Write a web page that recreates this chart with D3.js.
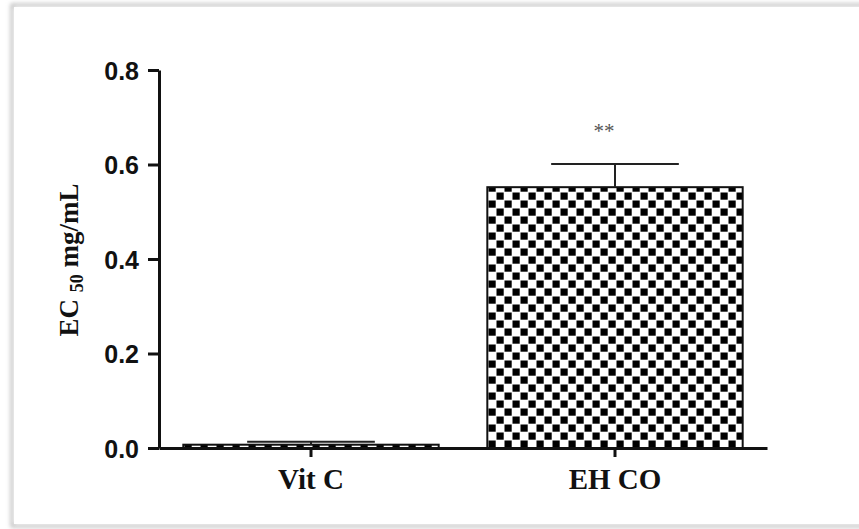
<!DOCTYPE html>
<html>
<head>
    <meta charset="UTF-8">
    <style>
        body { margin: 0; background: #fff; }
        .tick-lab { font-family: "Liberation Sans", Arial, sans-serif; font-weight: bold; font-size: 25px; fill: #111; }
        .cat-lab { font-family: "Liberation Serif", "Times New Roman", serif; font-weight: bold; font-size: 29px; fill: #111; }
    </style>
    <script src="https://d3js.org/d3.v7.min.js"></script>
</head>
<body>
    <svg width="859" height="529"></svg>
    <script>
        // data
        var groups = ["Vit C", "EH CO"];
        var means = [0.007, 0.552];
        var sems = [0.006, 0.049];
        var marks = ["", "**"];
        var yTicks = [0, 0.2, 0.4, 0.6, 0.8];

        var svg = d3.select("svg");
        var defs = svg.append("defs");

        // frame shadow
        var f = defs.append("filter").attr("id", "shadow")
            .attr("x", "-5%").attr("y", "-5%").attr("width", "110%").attr("height", "110%");
        f.append("feGaussianBlur").attr("stdDeviation", 2);

        // checkerboard fill
        var pat = defs.append("pattern").attr("id", "checker")
            .attr("patternUnits", "userSpaceOnUse")
            .attr("width", 16).attr("height", 16);
        pat.append("rect").attr("width", 16).attr("height", 16).attr("fill", "#fff");
        pat.append("rect").attr("x", 0.5).attr("y", 0.5).attr("width", 7.2).attr("height", 7.2).attr("fill", "#000");
        pat.append("rect").attr("x", 8.5).attr("y", 8.5).attr("width", 7.2).attr("height", 7.2).attr("fill", "#000");

        svg.append("rect")
            .attr("x", 12).attr("y", 5).attr("width", 920).attr("height", 521)
            .attr("fill", "none").attr("stroke", "#bbb").attr("stroke-width", 3)
            .attr("filter", "url(#shadow)");
        svg.append("rect")
            .attr("x", 14).attr("y", 7).attr("width", 920).attr("height", 517)
            .attr("fill", "#fff");

        var x = d3.scaleBand().domain(groups).range([159, 767])
            .paddingInner(0.16).paddingOuter(0.08);
        var y = d3.scaleLinear().domain([0, 0.8]).range([448, 70]);

        // bars
        svg.selectAll(".bar")
            .data(groups)
            .enter()
            .append("rect")
            .attr("class", "bar")
            .attr("x", function(d) { return x(d); })
            .attr("width", x.bandwidth())
            .attr("y", function(d, i) { return y(means[i]); })
            .attr("height", function(d, i) { return y(0) - y(means[i]); })
            .attr("fill", "url(#checker)")
            .attr("stroke", "#111")
            .attr("stroke-width", 2);

        // error bars (upper only)
        var eb = svg.selectAll(".err")
            .data(groups)
            .enter()
            .append("g")
            .attr("class", "err")
            .attr("stroke", "#222")
            .attr("stroke-width", 2);
        eb.append("line")
            .attr("x1", function(d) { return x(d) + x.bandwidth() / 2; })
            .attr("x2", function(d) { return x(d) + x.bandwidth() / 2; })
            .attr("y1", function(d, i) { return y(means[i]); })
            .attr("y2", function(d, i) { return y(means[i] + sems[i]); });
        eb.append("line")
            .attr("x1", function(d) { return x(d) + x.bandwidth() / 4; })
            .attr("x2", function(d) { return x(d) + x.bandwidth() * 3 / 4; })
            .attr("y1", function(d, i) { return y(means[i] + sems[i]); })
            .attr("y2", function(d, i) { return y(means[i] + sems[i]); });

        // significance marks
        svg.selectAll(".sig")
            .data(groups)
            .enter()
            .append("text")
            .attr("class", "sig")
            .attr("x", function(d) { return x(d) + x.bandwidth() / 2 - 11; })
            .attr("y", 138)
            .attr("text-anchor", "middle")
            .attr("font-family", "Liberation Serif, serif")
            .attr("font-size", "21px")
            .attr("fill", "#555")
            .text(function(d, i) { return marks[i]; });

        // y axis
        var yAxis = svg.append("g")
            .attr("transform", "translate(159,0)")
            .call(d3.axisLeft(y).tickValues(yTicks).tickFormat(d3.format(".1f")).tickSize(11).tickSizeOuter(0));
        yAxis.select(".domain").attr("stroke", "#111").attr("stroke-width", 3);
        yAxis.selectAll(".tick line").attr("stroke", "#111").attr("stroke-width", 3);
        yAxis.selectAll(".tick text").attr("class", "tick-lab").attr("x", -20).attr("dy", "0.36em");

        // x axis
        var xAxis = svg.append("g")
            .attr("transform", "translate(0,448)")
            .call(d3.axisBottom(x).tickSize(9).tickSizeOuter(0));
        xAxis.select(".domain").attr("stroke", "#111").attr("stroke-width", 3);
        xAxis.selectAll(".tick line").attr("stroke", "#111").attr("stroke-width", 3);
        xAxis.selectAll(".tick text").attr("class", "cat-lab").attr("y", 19).attr("dy", "0.75em");

        // y title
        var yt = svg.append("text")
            .attr("transform", "translate(78,260) rotate(-90)")
            .attr("text-anchor", "middle")
            .attr("font-family", "Liberation Serif, serif")
            .attr("font-weight", "bold")
            .attr("font-size", "27px")
            .attr("fill", "#111");
        yt.append("tspan").text("EC ");
        yt.append("tspan").attr("font-size", "18px").attr("dy", 5).text("50");
        yt.append("tspan").attr("dy", -5).text(" mg/mL");
    </script>
</body>
</html>
